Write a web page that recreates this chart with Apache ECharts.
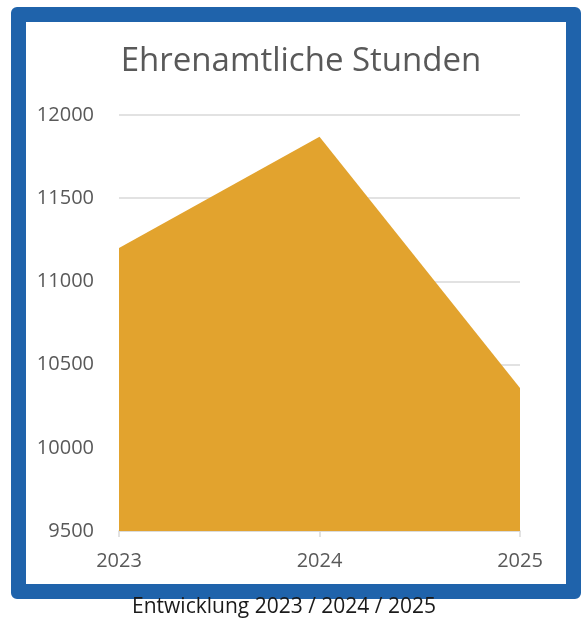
<!DOCTYPE html>
<html>
<head>
<meta charset="utf-8">
<script src="https://cdn.jsdelivr.net/npm/echarts@6/dist/echarts.min.js"></script>
<style>
  html, body { margin: 0; padding: 0; background: #ffffff; }
  #wrap { position: relative; width: 582px; height: 621px; }
  #frame { position: absolute; left: 11px; top: 7px; width: 570px; height: 592px; box-sizing: border-box;
           border: 15px solid #1F63AB; border-radius: 6px; background: #ffffff; }
  #chart { position: absolute; left: 0; top: 0; width: 582px; height: 621px; }
</style>
</head>
<body>
<div id="wrap">
  <div id="frame"></div>
  <div id="chart"></div>
</div>
<script>
const titleText = 'Ehrenamtliche Stunden';
const captionText = 'Entwicklung 2023 / 2024 / 2025';
const categories = ['2023', '2024', '2025'];
const hours = [11200, 11870, 10360];
const yMin = 9500, yMax = 12000, yStep = 500;

const chart = echarts.init(document.getElementById('chart'), null, { renderer: 'canvas' });
const font = '"Open Sans", "Noto Sans", sans-serif';
chart.setOption({
  backgroundColor: 'transparent',
  animation: false,
  textStyle: { fontFamily: font },
  title: {
    text: titleText,
    left: 296, top: 40, textAlign: 'center',
    textStyle: { fontFamily: font, fontSize: 33, fontWeight: 'normal', color: '#595959' }
  },
  grid: { left: 119, right: 62, top: 115, bottom: 90, containLabel: false, outerBoundsMode: 'none' },
  xAxis: {
    type: 'category', data: categories, boundaryGap: false,
    axisLine: { show: true, lineStyle: { color: '#d9d9d9', width: 1.5 } },
    axisTick: { show: true, alignWithLabel: true, length: 6, lineStyle: { color: '#d9d9d9', width: 1.5 } },
    axisLabel: { color: '#595959', fontSize: 20, margin: 20, fontFamily: font },
    splitLine: { show: false }
  },
  yAxis: {
    type: 'value', min: yMin, max: yMax, interval: yStep,
    axisLine: { show: false }, axisTick: { show: false },
    axisLabel: { color: '#595959', fontSize: 20, margin: 25, fontFamily: font, formatter: v => String(v) },
    splitLine: { show: true, lineStyle: { color: '#d9d9d9', width: 1.5 } }
  },
  series: [{
    type: 'line', data: hours, symbol: 'none',
    lineStyle: { width: 0 },
    areaStyle: { color: '#E2A32E', opacity: 1, origin: 'start' },
    z: 3
  }],
  graphic: [{
    type: 'text', x: 284, y: 597,
    style: { text: captionText, fill: '#1a1a1a', font: '21px ' + font, textAlign: 'center' }
  }]
});
</script>
</body>
</html>
